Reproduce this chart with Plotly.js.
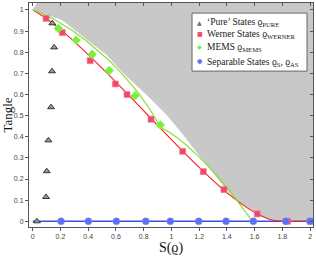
<!DOCTYPE html>
<html>
<head>
<meta charset="utf-8">
<script src="https://cdn.plot.ly/plotly-3.0.1.min.js"></script>
<style>html,body{margin:0;padding:0;background:#fff;}#chart{width:316px;height:256px;}</style>
</head>
<body>
<div id="chart"></div>
<script>
// Unphysical (forbidden) region boundary
var boundaryS = [0.09, 0, 0.21, 0.39, 0.533, 0.665, 0.822, 0.966, 1.086, 1.19, 1.29, 1.385, 1.475, 1.549, 1.632, 1.706, 1.792, 2.1, 2.1, 0.09];
var boundaryT = [1.1, 1, 0.953, 0.858, 0.787, 0.692, 0.598, 0.503, 0.408, 0.32, 0.235, 0.16, 0.095, 0.0625, 0.031, 0.01, 0, 0, 1.1, 1.1];

// Werner curve
var wernerCurveS = [0, 0.0756, 0.164, 0.290, 0.503, 0.686, 0.848, 0.993, 1.126, 1.247, 1.357, 1.457, 1.549, 1.632, 1.706, 1.792, 2.0];
var wernerCurveT = [1, 0.970, 0.926, 0.856, 0.7225, 0.601, 0.49, 0.391, 0.3025, 0.226, 0.16, 0.106, 0.0625, 0.031, 0.01, 0, 0];

// MEMS curve
var memsCurveS = [0, 0.0454, 0.1414, 0.2864, 0.384, 0.469, 0.5436, 0.6098, 0.669, 0.7219, 0.769, 0.8113, 0.8486, 0.8813, 0.9183, 0.983, 1.0395, 1.109, 1.2036, 1.2807, 1.345, 1.3996, 1.4455, 1.4839, 1.5156, 1.541, 1.5741, 1.585];
var memsCurveT = [1, 0.990, 0.9604, 0.9025, 0.8556, 0.81, 0.7656, 0.7225, 0.6806, 0.64, 0.6006, 0.5625, 0.5256, 0.49, 0.4444, 0.4225, 0.397, 0.36, 0.3025, 0.25, 0.2025, 0.16, 0.1225, 0.09, 0.0625, 0.04, 0.01, 0];

// Measured points
var pureS = [0.141, 0.154, 0.139, 0.132, 0.113, 0.101, 0.096, 0.03];
var pureT = [0.937, 0.823, 0.710, 0.540, 0.383, 0.237, 0.115, 0];
var wernerS = [0.096, 0.213, 0.414, 0.596, 0.68, 0.853, 1.081, 1.23, 1.379, 1.619, 1.838, 2.0];
var wernerT = [0.96, 0.893, 0.76, 0.65, 0.60, 0.483, 0.331, 0.235, 0.150, 0.035, 0, 0];
var memsS = [0.185, 0.312, 0.428, 0.552, 0.738, 0.92];
var memsT = [0.912, 0.857, 0.790, 0.713, 0.594, 0.456];
var sepS = [0.204, 0.401, 0.603, 0.815, 0.992, 1.197, 1.394, 1.591, 1.824, 2.0];
var sepT = [0, 0, 0, 0, 0, 0, 0, 0, 0, 0];
var sepLineS = [0, 2.0];
var sepLineT = [0, 0];

var xTicks = [0, 0.2, 0.4, 0.6, 0.8, 1, 1.2, 1.4, 1.6, 1.8, 2];
var yTicks = [0, 0.1, 0.2, 0.3, 0.4, 0.5, 0.6, 0.7, 0.8, 0.9, 1];

// Legend
var legendNames = ['‘Pure’ States ϱ<sub>PURE</sub>', 'Werner States ϱ<sub>WERNER</sub>', 'MEMS ϱ<sub>MEMS</sub>', 'Separable States ϱ<sub>S</sub>, ϱ<sub>AS</sub>'];
var legendGlyphs = ['▲', '■', '◆', '●'];
var legendColors = ['#6a6a6a', '#f2476a', '#78f03a', '#5b70f2'];

var serif = 'Liberation Serif, Times New Roman, serif';

var traces = [
  {x: boundaryS, y: boundaryT, type: 'scatter', mode: 'lines', fill: 'toself',
   fillcolor: '#c8c8c8', line: {width: 0, color: '#c8c8c8'}, showlegend: false, hoverinfo: 'skip'},
  {x: sepLineS, y: sepLineT, type: 'scatter', mode: 'lines', line: {color: '#3552e0', width: 1.5}, showlegend: false},
  {x: wernerCurveS, y: wernerCurveT, type: 'scatter', mode: 'lines', line: {color: '#ff1a1a', width: 1.1, shape: 'spline', smoothing: 0.6}, showlegend: false},
  {x: memsCurveS, y: memsCurveT, type: 'scatter', mode: 'lines', line: {color: '#86e033', width: 1.2}, showlegend: false},
  {x: pureS, y: pureT, type: 'scatter', mode: 'markers', name: legendNames[0], showlegend: false,
   marker: {symbol: 'triangle-up', size: 6, color: '#9a9a9a', line: {color: '#333', width: 1}}},
  {x: wernerS, y: wernerT, type: 'scatter', mode: 'markers', name: legendNames[1], showlegend: false,
   marker: {symbol: 'square', size: 6, color: '#f2476a', line: {color: '#f47a90', width: 0.6}}},
  {x: memsS, y: memsT, type: 'scatter', mode: 'markers', name: legendNames[2], showlegend: false,
   marker: {symbol: 'diamond', size: 7, color: '#78f03a', line: {color: '#9af060', width: 0.5}}},
  {x: sepS, y: sepT, type: 'scatter', mode: 'markers', name: legendNames[3], showlegend: false,
   marker: {symbol: 'circle', size: 7, color: '#5b70f2', line: {color: '#7a8cf5', width: 0.5}}}
];

var axisCommon = {
  showgrid: false, zeroline: false, showline: true, linecolor: '#555', linewidth: 1,
  ticks: 'outside', ticklen: 3, tickcolor: '#555', tickwidth: 1,
  tickfont: {family: 'Liberation Sans, Arial, sans-serif', size: 7, color: '#444'}
};

// legend layout (paper coordinates)
var legTextX = 0.621, legSymX = 0.601;
var legTextY = [0.914, 0.861, 0.801, 0.736];
var legSymY = [0.914, 0.862, 0.807, 0.742];

var annotations = [];
for (var i = 0; i < legendNames.length; i++) {
  annotations.push({xref: 'paper', yref: 'paper', x: legSymX, y: legSymY[i], xanchor: 'center', yanchor: 'middle',
    text: legendGlyphs[i], showarrow: false, font: {family: 'DejaVu Sans, sans-serif', size: 6, color: legendColors[i]}});
  annotations.push({xref: 'paper', yref: 'paper', x: legTextX, y: legTextY[i], xanchor: 'left', yanchor: 'middle',
    text: legendNames[i], showarrow: false, font: {family: serif, size: 9.5, color: '#1a1a1a'}});
}

var layout = {
  width: 316, height: 256,
  margin: {l: 29, r: 3, t: 3, b: 29},
  paper_bgcolor: '#fff', plot_bgcolor: '#fff',
  showlegend: false,
  shapes: [{type: 'rect', xref: 'paper', yref: 'paper', x0: 0.574, x1: 0.979, y0: 0.696, y1: 0.955,
    fillcolor: '#fff', line: {color: '#666', width: 1}, layer: 'above'}],
  annotations: annotations,
  xaxis: Object.assign({}, axisCommon, {range: [-0.027, 2.021], tickvals: xTicks,
    ticktext: xTicks.map(String),
    title: {text: 'S(ϱ)', standoff: 4, font: {family: serif, size: 14, color: '#111'}}}),
  yaxis: Object.assign({}, axisCommon, {range: [-0.027, 1.033], tickvals: yTicks,
    ticktext: yTicks.map(String),
    title: {text: 'Tangle', standoff: 3, font: {family: serif, size: 13, color: '#111'}}}),
  xaxis2: {overlaying: 'x', side: 'top', matches: 'x', range: [-0.027, 2.021], tickvals: xTicks,
    showticklabels: false, ticks: 'inside', ticklen: 3, tickcolor: '#555', showline: true, linecolor: '#555',
    showgrid: false, zeroline: false},
  yaxis2: {overlaying: 'y', side: 'right', range: [-0.027, 1.033], tickvals: yTicks,
    showticklabels: false, ticks: 'inside', ticklen: 3, tickcolor: '#555', showline: true, linecolor: '#555',
    showgrid: false, zeroline: false}
};

traces.push({x: [0], y: [0], xaxis: 'x2', yaxis: 'y2', type: 'scatter', mode: 'markers',
  marker: {opacity: 0}, showlegend: false, hoverinfo: 'skip'});

Plotly.newPlot('chart', traces, layout, {staticPlot: true, displayModeBar: false});
</script>
</body>
</html>
